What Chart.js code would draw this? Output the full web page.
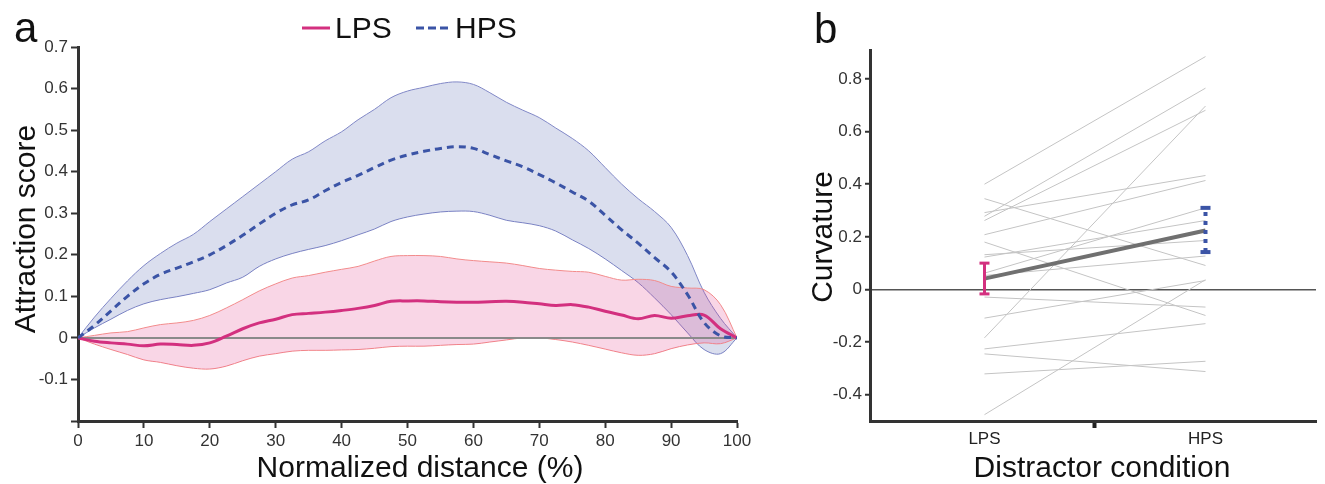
<!DOCTYPE html>
<html>
<head>
<meta charset="utf-8">
<script src="https://cdn.jsdelivr.net/npm/chart.js@4"></script>
<style>
  body { margin: 0; background: #fff; }
  #wrap { position: relative; width: 1325px; height: 484px; }
  canvas { position: absolute; top: 0; }
  #chartA { left: 0; }
  #chartB { left: 760px; }
</style>
</head>
<body>
<div id="wrap">
  <canvas id="chartA" width="760" height="484"></canvas>
  <canvas id="chartB" width="565" height="484"></canvas>
</div>
<script>
// panel a: attraction score along the normalized path
const distance = [0, 2.5, 5, 7.5, 10, 12.5, 15, 17.5, 20, 22.5, 25, 27.5, 30, 32.5, 35, 37.5, 40, 42.5, 45, 47.5,
  50, 52.5, 55, 57.5, 60, 62.5, 65, 67.5, 70, 72.5, 75, 77.5, 80, 82.5, 85, 87.5, 90, 92.5, 95, 97.5, 100]

const lpsMean = [0, -0.008, -0.012, -0.015, -0.019, -0.015, -0.016, -0.018, -0.012, 0.004, 0.022, 0.036, 0.045, 0.056,
  0.059, 0.062, 0.066, 0.071, 0.078, 0.088, 0.089, 0.089, 0.087, 0.086, 0.086, 0.087, 0.088, 0.086, 0.082, 0.078,
  0.08, 0.074, 0.064, 0.055, 0.046, 0.054, 0.047, 0.053, 0.055, 0.022, 0]
const lpsUpper = [0, 0.006, 0.012, 0.015, 0.024, 0.032, 0.036, 0.042, 0.054, 0.072, 0.092, 0.113, 0.13, 0.144, 0.15,
  0.158, 0.165, 0.172, 0.185, 0.196, 0.198, 0.198, 0.196, 0.19, 0.186, 0.183, 0.18, 0.174, 0.167, 0.163, 0.16,
  0.158, 0.148, 0.139, 0.141, 0.138, 0.124, 0.12, 0.116, 0.08, 0]
const lpsLower = [0, -0.015, -0.028, -0.04, -0.053, -0.059, -0.067, -0.073, -0.075, -0.068, -0.055, -0.044, -0.038,
  -0.032, -0.03, -0.03, -0.029, -0.028, -0.025, -0.021, -0.02, -0.02, -0.018, -0.016, -0.015, -0.01, -0.005, 0, 0,
  -0.004, -0.01, -0.018, -0.027, -0.036, -0.042, -0.038, -0.026, -0.017, -0.012, -0.014, 0]

const hpsMean = [0, 0.03, 0.065, 0.1, 0.13, 0.153, 0.168, 0.183, 0.2, 0.222, 0.247, 0.274, 0.3, 0.32, 0.332, 0.354,
  0.374, 0.391, 0.41, 0.428, 0.44, 0.449, 0.456, 0.46, 0.456, 0.441, 0.426, 0.412, 0.393, 0.373, 0.351, 0.329,
  0.295, 0.26, 0.228, 0.193, 0.159, 0.104, 0.037, 0.005, 0]
const hpsUpper = [0, 0.05, 0.095, 0.137, 0.174, 0.203, 0.228, 0.249, 0.28, 0.31, 0.34, 0.37, 0.4, 0.43, 0.448, 0.474,
  0.496, 0.525, 0.55, 0.578, 0.594, 0.603, 0.612, 0.616, 0.61, 0.59, 0.567, 0.548, 0.53, 0.505, 0.48, 0.45, 0.41,
  0.37, 0.335, 0.304, 0.266, 0.198, 0.11, 0.047, 0]
const hpsLower = [0, 0.024, 0.045, 0.066, 0.082, 0.092, 0.099, 0.107, 0.116, 0.132, 0.146, 0.172, 0.19, 0.203, 0.213,
  0.222, 0.234, 0.248, 0.262, 0.28, 0.291, 0.298, 0.303, 0.305, 0.304, 0.295, 0.283, 0.277, 0.27, 0.257, 0.236,
  0.215, 0.19, 0.162, 0.133, 0.096, 0.056, 0.012, -0.028, -0.038, 0]

// panel b: curvature per participant
const conditions = ['LPS', 'HPS']
const curvatureLPS = [0.40, 0.345, 0.292, 0.278, 0.262, 0.208, 0.18, 0.132, 0.123, 0.062, 0.053, -0.029, -0.109,
  -0.184, -0.226, -0.245, -0.321, -0.476]
const curvatureHPS = [0.885, 0.091, 0.433, 0.765, 0.681, 0.414, -0.099, 0.186, 0.262, 0.31, 0.127, -0.067, 0.034,
  0.697, -0.13, -0.312, -0.273, 0.037]
const meanCurvature = [0.041, 0.224]
const errLow = [-0.017, 0.142]
const errHigh = [0.10, 0.31]

const FONT = "'Liberation Sans', Arial, Helvetica, sans-serif"
const PINK = '#d3307f'
const BLUE = '#3b54a6'
Chart.defaults.font.family = FONT
Chart.defaults.animation = false

const toPoints = (ys) => ys.map((y, i) => ({ x: distance[i], y: y }))
const fmt = (v) => String(Number(v.toFixed(1)))

const textPlugin = (draw) => ({
  id: 'panelText',
  afterDraw: (chart) => {
    const ctx = chart.ctx
    ctx.save()
    draw(ctx)
    ctx.restore()
  }
})

// horizontal title centred at cx, and a rotated one centred at cy
const xTitle = (ctx, text, cx, baseY) => {
  ctx.textAlign = 'center'
  ctx.fillText(text, cx, baseY)
}
const yTitle = (ctx, text, baseX, cy) => {
  ctx.save()
  ctx.translate(baseX, cy)
  ctx.rotate(-Math.PI / 2)
  ctx.textAlign = 'center'
  ctx.fillText(text, 0, 0)
  ctx.restore()
}

new Chart(document.getElementById('chartA'), {
  type: 'line',
  data: {
    datasets: [
      { data: toPoints(hpsMean), borderColor: BLUE, borderWidth: 3, borderDash: [7, 5] },
      { data: toPoints(lpsMean), borderColor: PINK, borderWidth: 3 },
      { data: [{ x: distance[0], y: 0 }, { x: distance[distance.length - 1], y: 0 }], borderColor: '#8a8a8a', borderWidth: 2, tension: 0 },
      { data: toPoints(lpsUpper), borderColor: '#f28b8b', borderWidth: 1, backgroundColor: 'rgba(225,50,130,0.2)', fill: 4 },
      { data: toPoints(lpsLower), borderColor: '#f28b8b', borderWidth: 1 },
      { data: toPoints(hpsUpper), borderColor: '#8087c6', borderWidth: 1, backgroundColor: 'rgba(70,90,170,0.2)', fill: 6 },
      { data: toPoints(hpsLower), borderColor: '#8087c6', borderWidth: 1 }
    ]
  },
  options: {
    responsive: false,
    devicePixelRatio: 1,
    layout: { padding: { left: 11, right: 23, top: 47, bottom: 2 } },
    elements: { point: { radius: 0 }, line: { tension: 0.35, fill: false } },
    plugins: { legend: { display: false }, tooltip: { enabled: false } },
    scales: {
      x: {
        type: 'linear',
        min: 0,
        max: 100,
        afterFit: (s) => { s.height = 61 },
        ticks: { stepSize: 10, color: '#333', font: { size: 17 }, padding: 3, maxRotation: 0 },
        grid: { drawOnChartArea: false, tickLength: 7, tickColor: '#333', tickWidth: 2 },
        border: { color: '#333', width: 3 }
      },
      y: {
        min: -0.2,
        max: 0.7,
        afterFit: (s) => { s.width = 67 },
        ticks: { stepSize: 0.1, color: '#333', font: { size: 17 }, padding: 3, callback: (v) => v < -0.15 ? '' : fmt(v) },
        grid: { drawOnChartArea: false, tickLength: 7, tickColor: '#333', tickWidth: 2 },
        border: { color: '#333', width: 3 }
      }
    }
  },
  plugins: [textPlugin((ctx) => {
    ctx.fillStyle = '#111'
    ctx.font = `42px ${FONT}`
    ctx.fillText('a', 14, 42)
    ctx.font = `30px ${FONT}`
    ctx.lineWidth = 3
    ctx.strokeStyle = PINK
    ctx.beginPath(); ctx.moveTo(302, 28); ctx.lineTo(330, 28); ctx.stroke()
    ctx.fillText(conditions[0], 335, 38)
    ctx.strokeStyle = BLUE
    ctx.setLineDash([8, 4])
    ctx.beginPath(); ctx.moveTo(416, 28); ctx.lineTo(448, 28); ctx.stroke()
    ctx.setLineDash([])
    ctx.fillText(conditions[1], 455, 38)
    xTitle(ctx, 'Normalized distance (%)', 420, 477)
    yTitle(ctx, 'Attraction score', 35, 229)
  })]
})

const subjectLines = curvatureLPS.map((v, i) => ({
  data: [{ x: 0, y: v }, { x: 1, y: curvatureHPS[i] }],
  borderColor: '#c4c4c4',
  borderWidth: 1
}))

new Chart(document.getElementById('chartB'), {
  type: 'line',
  data: {
    datasets: [
      { data: [{ x: 0, y: errLow[0] }, { x: 0, y: errHigh[0] }], borderColor: PINK, borderWidth: 3,
        pointStyle: 'line', pointRadius: 5, pointBorderWidth: 3, pointBorderColor: PINK },
      { data: [{ x: 1, y: errLow[1] }, { x: 1, y: errHigh[1] }], borderColor: BLUE, borderWidth: 4, borderDash: [4, 5],
        pointStyle: 'line', pointRadius: 5, pointBorderWidth: 4, pointBorderColor: BLUE },
      { data: [{ x: 0, y: meanCurvature[0] }, { x: 1, y: meanCurvature[1] }], borderColor: '#707070', borderWidth: 4 },
      ...subjectLines
    ]
  },
  options: {
    responsive: false,
    devicePixelRatio: 1,
    layout: { padding: { left: 48, right: 3, top: 50, bottom: 2 } },
    elements: { point: { radius: 0 }, line: { tension: 0, fill: false } },
    plugins: { legend: { display: false }, tooltip: { enabled: false } },
    scales: {
      x: {
        type: 'linear',
        min: -0.518,
        max: 1.5,
        afterFit: (s) => { s.height = 61 },
        afterBuildTicks: (s) => { s.ticks = [{ value: 0 }, { value: 0.5 }, { value: 1 }] },
        ticks: { autoSkip: false, maxRotation: 0, color: '#222', font: { size: 17 }, padding: 1,
          callback: (v) => v === 0 ? conditions[0] : v === 1 ? conditions[1] : '' },
        grid: { drawOnChartArea: false, tickLength: 7, tickWidth: 4,
          tickColor: (c) => c.tick && c.tick.value === 0.5 ? '#222' : 'transparent' },
        border: { color: '#333', width: 3 }
      },
      y: {
        min: -0.5,
        max: 0.91,
        afterFit: (s) => { s.width = 62 },
        ticks: { stepSize: 0.2, includeBounds: false, color: '#333', font: { size: 17 }, padding: 3, callback: (v) => fmt(v) },
        grid: { color: (c) => c.tick && c.tick.value === 0 ? '#555' : 'transparent', lineWidth: 1.5,
          tickLength: 5, tickColor: '#333', tickWidth: 2 },
        border: { color: '#333', width: 3 }
      }
    }
  },
  plugins: [textPlugin((ctx) => {
    ctx.fillStyle = '#111'
    ctx.font = `42px ${FONT}`
    ctx.fillText('b', 54, 43)
    ctx.font = `30px ${FONT}`
    xTitle(ctx, 'Distractor condition', 342, 477)
    yTitle(ctx, 'Curvature', 72, 237)
  })]
})
</script>
</body>
</html>
